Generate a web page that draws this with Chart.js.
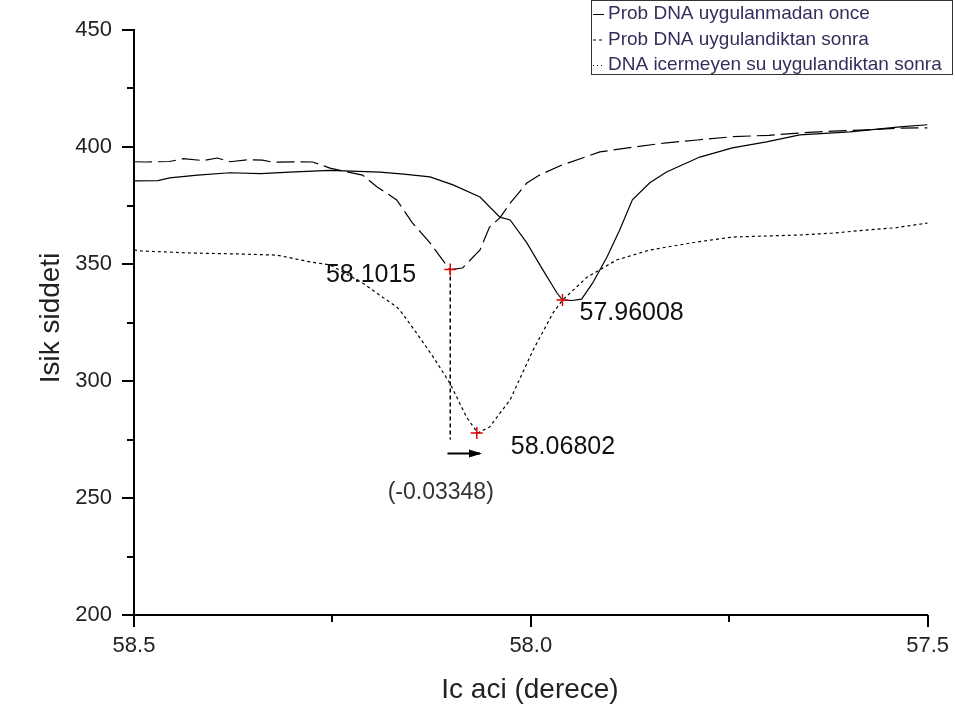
<!DOCTYPE html>
<html>
<head>
<meta charset="utf-8">
<script src="https://cdn.jsdelivr.net/npm/chart.js@4/dist/chart.umd.min.js"></script>
<style>
  html, body { margin: 0; padding: 0; background: #fff; }
  #wrap { width: 955px; height: 711px; position: relative; }
</style>
</head>
<body>
<div id="wrap"><canvas id="chart"></canvas></div>
<script>
// series (x = angle, y = intensity)
const seriesNames = ['Prob DNA uygulanmadan once', 'Prob DNA uygulandiktan sonra', 'DNA icermeyen su uygulandiktan sonra'];

const solidX = [58.5, 58.47, 58.455, 58.42, 58.379, 58.34, 58.304, 58.253, 58.19, 58.16, 58.127, 58.098, 58.064, 58.039, 58.026, 58.005, 57.985, 57.967, 57.96, 57.948, 57.936, 57.922, 57.904, 57.888, 57.872, 57.85, 57.829, 57.787, 57.746, 57.703, 57.661, 57.598, 57.535, 57.5];
const solidY = [385.5, 385.6, 386.8, 388, 389, 388.6, 389.3, 390, 389.3, 388.4, 387.2, 383.8, 378.6, 370, 368.8, 359, 347.6, 337.6, 334.6, 334.4, 335, 341.9, 353, 364.5, 377.4, 384.7, 389.3, 395.7, 399.6, 402.2, 405.2, 406.5, 408.6, 409.5];

const dashX = [58.5, 58.484, 58.455, 58.438, 58.413, 58.395, 58.379, 58.358, 58.338, 58.325, 58.295, 58.275, 58.253, 58.232, 58.212, 58.194, 58.169, 58.149, 58.127, 58.102, 58.086, 58.064, 58.052, 58.039, 58.026, 58.005, 57.989, 57.963, 57.913, 57.87, 57.829, 57.79, 57.746, 57.7, 57.661, 57.62, 57.577, 57.54, 57.5];
const dashY = [393.7, 393.6, 393.8, 395, 394.2, 395.3, 393.7, 394.5, 394.4, 393.5, 393.7, 393.6, 391, 389.4, 388, 383, 377.4, 367.5, 359, 347.6, 348.3, 356, 365.8, 369.7, 376, 384.6, 388, 392, 397.9, 400, 401.8, 403, 404.4, 405, 406, 406.8, 407.3, 408, 408.2];

const dotX = [58.5, 58.492, 58.429, 58.37, 58.32, 58.278, 58.253, 58.212, 58.169, 58.165, 58.145, 58.123, 58.102, 58.081, 58.067, 58.052, 58.026, 57.997, 57.972, 57.96, 57.929, 57.892, 57.85, 57.791, 57.746, 57.7, 57.661, 57.62, 57.577, 57.54, 57.5];
const dotY = [356, 355.6, 354.7, 354.3, 353.8, 350.9, 349.6, 341.9, 331.6, 330.3, 321, 310.3, 299.1, 284.6, 277.8, 280.3, 292, 313.3, 329.1, 334.6, 344.4, 351.7, 356, 359.4, 361.5, 362, 362.4, 363.2, 364.5, 365.5, 367.5];

// marked minima
const markX = [58.1015, 58.06802, 57.96008];
const markY = [347.6, 277.8, 334.6];
const markText = ['58.1015', '58.06802', '57.96008'];

// drop line and shift arrow
const dropX = [58.1015, 58.1015];
const dropY = [347.6, 275];
const arrowX = [58.105, 58.064];
const arrowY = [269, 269];
const shiftText = '(-0.03348)';

const xTicks = [58.5, 58.25, 58.0, 57.75, 57.5];
const yTicks = [200, 225, 250, 275, 300, 325, 350, 375, 400, 425, 450];

const FONT = '"Liberation Sans", Arial, sans-serif';

function pts(xs, ys) {
    return xs.map((x, i) => ({x: x, y: ys[i]}));
}

const extras = {
    id: 'extras',
    afterDraw(chart) {
        const ctx = chart.ctx;
        const xs = chart.scales.x, ys = chart.scales.y;
        const area = chart.chartArea;
        ctx.save();

        // tick marks, major and minor
        ctx.strokeStyle = '#000';
        ctx.lineWidth = 2;
        xTicks.forEach(v => {
            const px = Math.round(xs.getPixelForValue(v));
            const len = (Math.abs(v * 2 - Math.round(v * 2)) < 1e-6) ? 12 : 7;
            ctx.beginPath();
            ctx.moveTo(px, area.bottom);
            ctx.lineTo(px, area.bottom + len);
            ctx.stroke();
        });
        yTicks.forEach(v => {
            const py = Math.round(ys.getPixelForValue(v));
            const len = v % 50 === 0 ? 12 : 7;
            ctx.beginPath();
            ctx.moveTo(area.left, py);
            ctx.lineTo(area.left - len, py);
            ctx.stroke();
        });

        // axis titles
        ctx.fillStyle = '#222';
        ctx.font = '28px ' + FONT;
        ctx.textAlign = 'center';
        ctx.textBaseline = 'middle';
        ctx.fillText('Ic aci (derece)', 530, 690);
        ctx.save();
        ctx.translate(51, 318);
        ctx.rotate(-Math.PI / 2);
        ctx.fillText('Isik siddeti', 0, 0);
        ctx.restore();

        // labels next to the marked minima
        const offs = [[-34, 5, 'right'], [34, 14, 'left'], [17, 13, 'left']];
        ctx.font = '25px ' + FONT;
        ctx.fillStyle = '#111';
        markX.forEach((v, i) => {
            const px = xs.getPixelForValue(v), py = ys.getPixelForValue(markY[i]);
            ctx.textAlign = offs[i][2];
            ctx.fillText(markText[i], px + offs[i][0], py + offs[i][1]);
        });

        // arrow head
        const ax = xs.getPixelForValue(arrowX[1]);
        const ay = ys.getPixelForValue(arrowY[1]);
        ctx.fillStyle = '#000';
        ctx.beginPath();
        ctx.moveTo(ax + 2, ay);
        ctx.lineTo(ax - 11, ay - 4);
        ctx.lineTo(ax - 11, ay + 4);
        ctx.closePath();
        ctx.fill();

        // shift value
        const mx = (xs.getPixelForValue(arrowX[0]) + ax) / 2;
        ctx.font = '23px ' + FONT;
        ctx.fillStyle = '#333';
        ctx.textAlign = 'center';
        ctx.fillText(shiftText, mx - 23, ay + 39);

        // legend box
        const bx = 591, by = 0, bw = 361, bh = 74;
        ctx.fillStyle = '#fff';
        ctx.fillRect(bx, by, bw, bh);
        ctx.strokeStyle = '#333';
        ctx.lineWidth = 1;
        ctx.strokeRect(bx + 0.5, by + 0.5, bw, bh);
        const dashes = [[], [3, 3], [1, 3]];
        ctx.font = '19px ' + FONT;
        ctx.textAlign = 'left';
        seriesNames.forEach((name, i) => {
            const ry = 14 + i * 25.5;
            ctx.strokeStyle = '#000';
            ctx.setLineDash(dashes[i]);
            ctx.beginPath();
            ctx.moveTo(bx + 2, ry + 0.5);
            ctx.lineTo(bx + 13, ry + 0.5);
            ctx.stroke();
            ctx.setLineDash([]);
            ctx.fillStyle = '#332f5c';
            ctx.fillText(name, bx + 17, ry);
        });

        ctx.restore();
    }
};

new Chart(document.getElementById('chart'), {
    type: 'scatter',
    data: {
        datasets: [
            {
                label: 'marks',
                data: pts(markX, markY),
                pointStyle: 'cross',
                pointRadius: 6,
                borderColor: '#e00000',
                borderWidth: 1.5,
                showLine: false
            },
            {
                label: seriesNames[0],
                data: pts(solidX, solidY),
                showLine: true,
                borderColor: '#000',
                borderWidth: 1.2,
                pointRadius: 0
            },
            {
                label: seriesNames[1],
                data: pts(dashX, dashY),
                showLine: true,
                borderColor: '#000',
                borderWidth: 1.2,
                borderDash: [18, 6],
                pointRadius: 0
            },
            {
                label: seriesNames[2],
                data: pts(dotX, dotY),
                showLine: true,
                borderColor: '#000',
                borderWidth: 1.2,
                borderDash: [3, 3],
                pointRadius: 0
            },
            {
                label: 'drop',
                data: pts(dropX, dropY),
                showLine: true,
                borderColor: '#000',
                borderWidth: 1.5,
                borderDash: [4, 3],
                pointRadius: 0
            },
            {
                label: 'arrow',
                data: pts(arrowX, arrowY),
                showLine: true,
                borderColor: '#000',
                borderWidth: 2,
                pointRadius: 0
            }
        ]
    },
    options: {
        responsive: true,
        maintainAspectRatio: false,
        animation: false,
        layout: { padding: { left: 0, top: 30, right: 27, bottom: 0 } },
        plugins: { legend: { display: false }, tooltip: { enabled: false } },
        scales: {
            x: {
                type: 'linear',
                reverse: true,
                min: 57.5,
                max: 58.5,
                afterFit: s => { s.height = 96; },
                afterBuildTicks: s => { s.ticks = xTicks.map(v => ({value: v})); },
                ticks: {
                    autoSkip: false,
                    maxRotation: 0,
                    padding: 6,
                    color: '#222',
                    font: { family: FONT, size: 22 },
                    callback: v => (Math.abs(v * 2 - Math.round(v * 2)) < 1e-6) ? v.toFixed(1) : ''
                },
                grid: { display: true, drawOnChartArea: false, color: 'rgba(0,0,0,0)', tickLength: 12 },
                border: { color: '#000', width: 2 }
            },
            y: {
                min: 200,
                max: 450,
                afterFit: s => { s.width = 134; },
                afterBuildTicks: s => { s.ticks = yTicks.map(v => ({value: v})); },
                ticks: {
                    autoSkip: false,
                    padding: 10,
                    color: '#222',
                    font: { family: FONT, size: 22 },
                    callback: v => v % 50 === 0 ? String(v) : ''
                },
                grid: { display: true, drawOnChartArea: false, color: 'rgba(0,0,0,0)', tickLength: 12 },
                border: { color: '#000', width: 2 }
            }
        }
    },
    plugins: [extras]
});
</script>
</body>
</html>
